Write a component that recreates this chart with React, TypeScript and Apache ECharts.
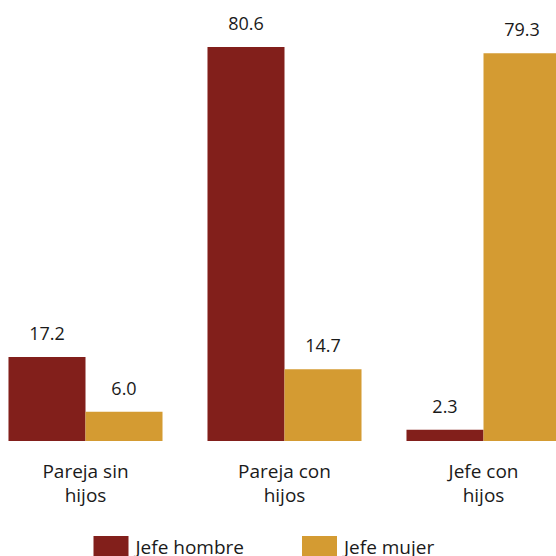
import React, { useEffect, useRef } from "react";
import * as echarts from "echarts";

const categories = ["Pareja sin\nhijos", "Pareja con\nhijos", "Jefe con\nhijos"];
const seriesNames = ["Jefe hombre", "Jefe mujer"];
const jefeHombre = [17.2, 80.6, 2.3];
const jefeMujer = [6.0, 14.7, 79.3];
const colors = ["#821F1B", "#D49B32"];

export default function App() {
  const ref = useRef<HTMLDivElement>(null);
  useEffect(() => {
    if (!ref.current) return;
    const chart = echarts.init(ref.current, undefined, { renderer: "svg" });
    const font = "'Open Sans', 'Noto Sans', sans-serif";
    const label = {
      show: true,
      position: "top" as const,
      distance: 15,
      fontSize: 18,
      color: "#1a1a1a",
      fontFamily: font,
      formatter: (p: any) => Number(p.value).toFixed(1),
    };
    chart.setOption({
      animation: false,
      color: colors,
      grid: { left: 0, right: 0, top: 1, bottom: 115, containLabel: false },
      legend: {
        top: 531,
        left: 102.5,
        itemWidth: 35,
        itemHeight: 22,
        itemGap: 58,
        icon: "rect",
        textStyle: { fontSize: 19, color: "#1a1a1a", fontFamily: font, padding: [0, 0, 0, 2] },
        data: seriesNames,
      },
      xAxis: {
        type: "category",
        data: categories,
        axisLine: { show: false },
        axisTick: { show: false },
        axisLabel: { fontSize: 19, color: "#1a1a1a", fontFamily: font, margin: 18, lineHeight: 24 },
      },
      yAxis: { type: "value", min: 0, max: 90, show: false, splitLine: { show: false } },
      series: [
        { name: seriesNames[0], type: "bar", data: jefeHombre, barGap: "0%", barCategoryGap: "22.6%", label },
        { name: seriesNames[1], type: "bar", data: jefeMujer, barGap: "0%", barCategoryGap: "22.6%", label },
      ],
    });
    return () => chart.dispose();
  }, []);
  return (
    <div style={{ position: "absolute", left: 0, top: 0, width: 556, height: 556, overflow: "hidden" }}>
      <div ref={ref} style={{ width: 597, height: 556, position: "absolute", left: -14.5, top: 0 }} />
    </div>
  );
}
